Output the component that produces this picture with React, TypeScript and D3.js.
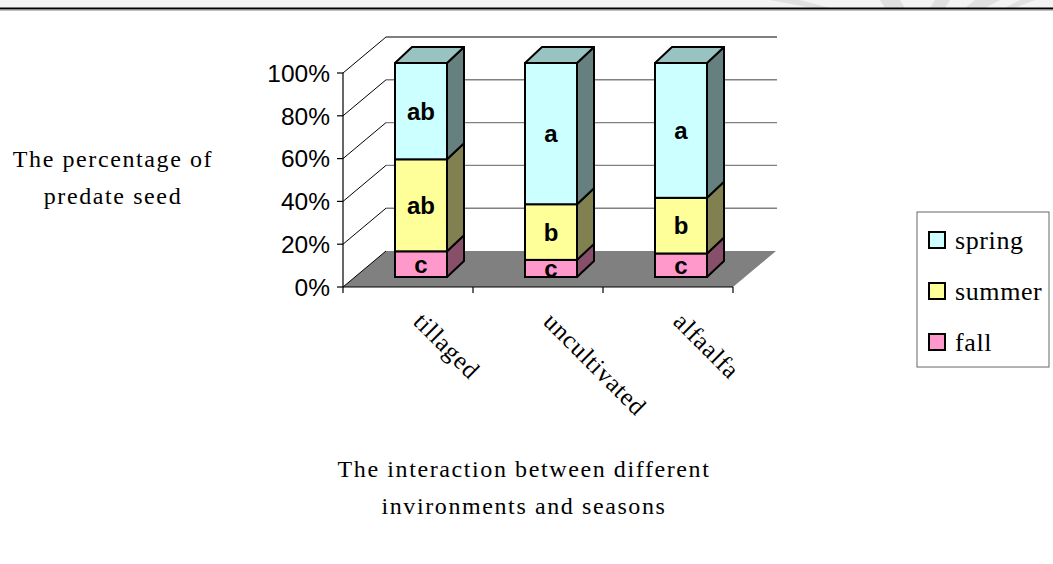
import React from "react";
import * as d3 from "d3";

const categories = ["tillaged", "uncultivated", "alfaalfa"];
const fallValues = [12, 8, 11];
const summerValues = [43, 26, 26];
const springValues = [45, 66, 63];
const fallLabels = ["c", "c", "c"];
const summerLabels = ["ab", "b", "b"];
const springLabels = ["ab", "a", "a"];
const yTicks = [0, 20, 40, 60, 80, 100];
const seriesKeys = ["fall", "summer", "spring"];
const legendOrder = ["spring", "summer", "fall"];

const colors: Record<string, { front: string; side: string; top: string }> = {
  spring: { front: "#CCFFFF", side: "#668080", top: "#99C3C0" },
  summer: { front: "#FFFF99", side: "#808050", top: "#CCCC7A" },
  fall: { front: "#FF99CC", side: "#884F6A", top: "#CC7AA3" },
};

const labels: Record<string, string[]> = {
  fall: fallLabels,
  summer: summerLabels,
  spring: springLabels,
};

const W = 1053;
const H = 564;
const X0 = 343;
const X1 = 733;
const Y0 = 287;
const Y100 = 73;
const DX = 43;
const DY = -36;

export default function App() {
  const table = categories.map((c, i) => ({
    cat: c,
    fall: fallValues[i],
    summer: summerValues[i],
    spring: springValues[i],
  }));
  const stacked = d3.stack<any>().keys(seriesKeys)(table);
  const x = d3.scaleBand().domain(categories).range([X0, X1]).padding(0);
  const y = d3.scaleLinear().domain([0, 100]).range([Y0, Y100]);
  const bw = x.bandwidth();
  const barW = bw * 0.4;
  const fy = -10;
  const bx = 17;
  const by = -16;

  const pts = (p: number[][]) => p.map((q) => q.join(",")).join(" ");

  const bars: JSX.Element[] = [];
  categories.forEach((c, ci) => {
    const left = (x(c) as number) + bw * 0.4;
    const right = left + barW;
    stacked.forEach((s, si) => {
      const key = s.key;
      const [v0, v1] = s[ci];
      const yb = y(v0) + fy;
      const yt = y(v1) + fy;
      const col = colors[key];
      bars.push(
        <g key={c + key}>
          <polygon
            points={pts([[right, yb], [right + bx, yb + by], [right + bx, yt + by], [right, yt]])}
            fill={col.side}
            stroke="#000"
            strokeWidth={2}
            strokeLinejoin="round"
          />
          {si === stacked.length - 1 && (
            <polygon
              points={pts([[left, yt], [right, yt], [right + bx, yt + by], [left + bx, yt + by]])}
              fill={col.top}
              stroke="#000"
              strokeWidth={2}
              strokeLinejoin="round"
            />
          )}
          <rect x={left} y={yt} width={barW} height={yb - yt} fill={col.front} stroke="#000" strokeWidth={2} />
          <text
            x={left + barW / 2}
            y={(yt + yb) / 2}
            dy="0.36em"
            textAnchor="middle"
            fontFamily="'Liberation Sans', Arial, sans-serif"
            fontWeight="bold"
            fontSize={24}
            fill="#000"
          >
            {labels[key][ci]}
          </text>
        </g>
      );
    });
  });

  const serif = "'Liberation Serif', 'Times New Roman', serif";

  return (
    <svg width={W} height={H} style={{ position: "absolute", left: 0, top: 0, background: "#fff" }}>
      <rect x={0} y={0} width={W} height={H} fill="#fff" />
      {/* top band */}
      <rect x={0} y={0} width={W} height={8} fill="#f3f3f3" />
      <g fill="#dcdcdc" opacity={0.8}>
        <polygon points="770,0 800,0 830,8 812,8" />
        <polygon points="880,0 900,0 905,8 885,8" />
        <polygon points="935,0 950,0 945,8 930,8" />
        <polygon points="975,0 1000,0 985,8 965,8" />
        <polygon points="1020,0 1035,0 1015,8 1005,8" />
      </g>
      <line x1={0} x2={W} y1={8.5} y2={8.5} stroke="#000" strokeWidth={2} />
      <line x1={0} x2={W} y1={10} y2={10} stroke="#888" strokeWidth={1} />

      {/* back wall gridlines */}
      {yTicks.slice(1).map((t) => (
        <line
          key={"g" + t}
          x1={X0 + DX}
          x2={X1 + DX + 1}
          y1={y(t) + DY}
          y2={y(t) + DY}
          stroke={t === 100 ? "#000" : "#808080"}
          strokeWidth={t === 100 ? 1.2 : 1.4}
        />
      ))}
      {/* floor */}
      <polygon
        points={pts([[X0, Y0], [X1, Y0], [X1 + DX, Y0 + DY], [X0 + DX, Y0 + DY]])}
        fill="#808080"
      />
      {/* side wall diagonals */}
      {yTicks.map((t) => (
        <line key={"d" + t} x1={X0} y1={y(t)} x2={X0 + DX} y2={y(t) + DY} stroke="#000" strokeWidth={1} />
      ))}
      {/* y axis */}
      <line x1={X0} x2={X0} y1={Y0} y2={Y100} stroke="#000" strokeWidth={1.2} />
      {yTicks.map((t) => (
        <g key={"t" + t}>
          <line x1={X0 - 6} x2={X0} y1={y(t)} y2={y(t)} stroke="#000" strokeWidth={1.2} />
          <text
            x={330}
            y={y(t)}
            dy="0.36em"
            textAnchor="end"
            fontFamily="'Liberation Sans', Arial, sans-serif"
            fontSize={24.5}
            fill="#000"
          >
            {t + "%"}
          </text>
        </g>
      ))}
      {/* x axis */}
      <line x1={X0} x2={X1} y1={Y0} y2={Y0} stroke="#000" strokeWidth={1.2} />
      {[...categories.map((c) => x(c) as number), X1].map((v, i) => (
        <line key={"xt" + i} x1={v} x2={v} y1={Y0} y2={Y0 + 6} stroke="#000" strokeWidth={1.2} />
      ))}
      {categories.map((c) => {
        const cx = (x(c) as number) + bw / 2;
        return (
          <text
            key={"xl" + c}
            transform={`translate(${cx + 4},${323}) rotate(45)`}
            fontFamily={serif}
            fontSize={25}
            letterSpacing={0.8}
            fill="#000"
          >
            {c}
          </text>
        );
      })}

      {bars}

      {/* axis titles */}
      <g fontFamily={serif} fontSize={24} fill="#000" textAnchor="middle" letterSpacing={1.6}>
        <text x={113} y={167}>The percentage of</text>
        <text x={113} y={204}>predate seed</text>
        <text x={524} y={477}>The interaction between different</text>
        <text x={524} y={514}>invironments and seasons</text>
      </g>

      {/* legend */}
      <rect x={917} y={212} width={132} height={155} fill="#fff" stroke="#666" strokeWidth={1} />
      {legendOrder.map((k, i) => {
        const cy = 240 + i * 51;
        return (
          <g key={"lg" + k}>
            <rect x={929} y={cy - 8} width={16} height={16} fill={colors[k].front} stroke="#000" strokeWidth={2} />
            <text x={955} y={cy} dy="0.33em" fontFamily={serif} fontSize={26} letterSpacing={0.6} fill="#000">
              {k}
            </text>
          </g>
        );
      })}
    </svg>
  );
}
